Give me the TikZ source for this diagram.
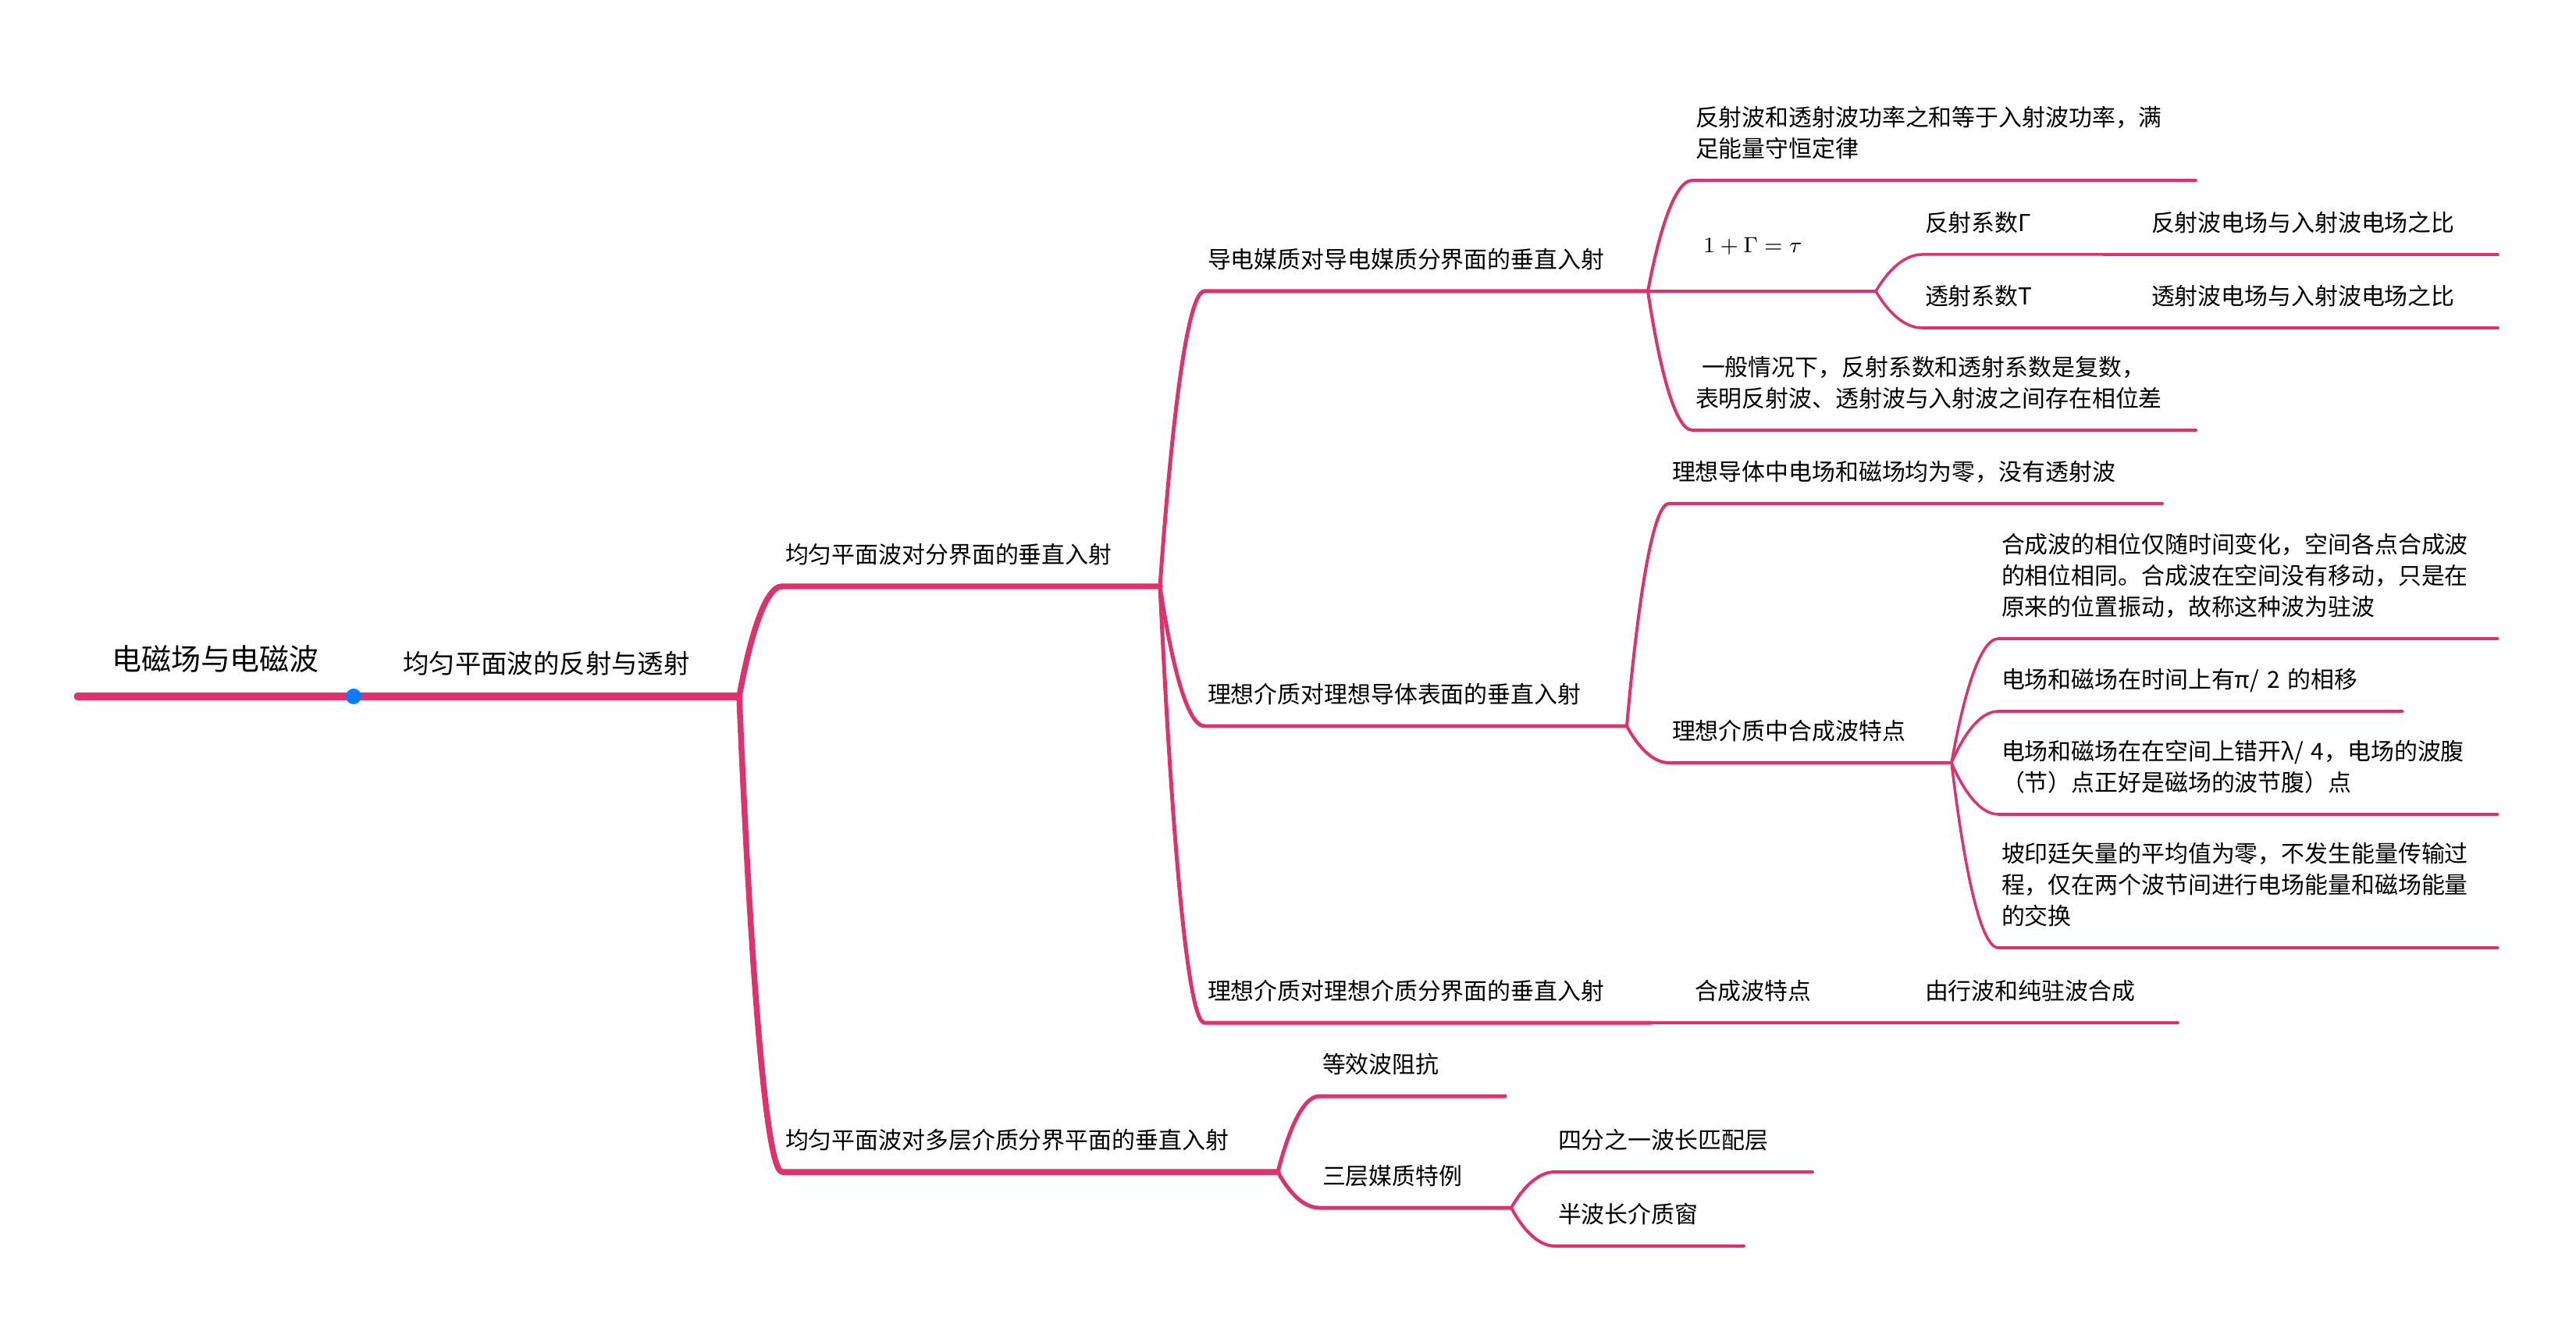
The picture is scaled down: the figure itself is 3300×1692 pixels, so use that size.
\documentclass[tikz,border=0pt]{standalone}
\usepackage[no-math]{fontspec}
\setmainfont{Noto Sans CJK SC}
\usetikzlibrary{calc}
\definecolor{mapPink}{RGB}{221,50,107}
\definecolor{mapBlue}{RGB}{10,124,255}

\begin{document}
\begin{tikzpicture}[
  x=0.01cm, y=-0.01cm,
  line cap=round, line join=round,
  topic/.style={
    anchor=south west,
    /utils/exec={\pgfmathsetlengthmacro\topicwd{#1*0.01cm-0.08cm}},
    text width=\topicwd,
    inner xsep=0.04cm,
    inner ysep=0.17cm,
    outer sep=0pt,
    align=left,
    font=\fontsize{8.5pt}{11.4pt}\selectfont,
    execute at end node=\strut
  },
  headtopic/.style={topic=#1, align=center},
  joint/.style={circle, fill=mapBlue, inner sep=0pt, minimum size=0.2cm},
  branch/.style={to path={let \p1=(\tikztostart), \p2=(\tikztotarget) in
    .. controls ({\x1+0.2*(\x2-\x1)},{\y1+0.43*(\y2-\y1)})
    and ({\x1+0.56*(\x2-\x1)},\y2) .. (\tikztotarget)}},
  lvone/.style={mapPink, line width=2.56pt},
  lvtwo/.style={mapPink, line width=2.13pt},
  lvthree/.style={mapPink, line width=1.42pt},
  lvfour/.style={mapPink, line width=1.14pt},
  lvfive/.style={mapPink, line width=1.0pt}
]
  \useasboundingbox (0,0) rectangle (3300,1692);

  % root and first level
  \node[headtopic=354, font=\fontsize{10.8pt}{13pt}\selectfont, inner ysep=0.20cm] (root) at (99,892) {电磁场与电磁波};
  \node[headtopic=494, font=\fontsize{9.5pt}{12pt}\selectfont, inner ysep=0.165cm] (refl) at (453,892) {均匀平面波的反射与透射};

  % second level
  \node[topic=484] (norm) at (1002,751) {均匀平面波对分界面的垂直入射};
  \node[topic=635] (multi) at (1002,1501) {均匀平面波对多层介质分界平面的垂直入射};

  % third level
  \node[topic=568] (cond) at (1543,373) {导电媒质对导电媒质分界面的垂直入射};
  \node[topic=541] (pec) at (1543,930) {理想介质对理想导体表面的垂直入射};
  \node[topic=572] (diel) at (1543,1310) {理想介质对理想介质分界面的垂直入射};
  \node[topic=238] (imp) at (1690,1404) {等效波阻抗};
  \node[topic=246] (three) at (1690,1547) {三层媒质特例};

  % fourth level
  \node[topic=645] (power) at (2168,231) {反射波和透射波功率之和等于入射波功率，满\\足能量守恒定律};
  \node[topic=235, font=\fontsize{8.3pt}{12pt}\selectfont, inner ysep=0.37cm] (sumrule) at (2168,373) {\hspace*{0.1cm}$1+\Gamma=\tau$};
  \node[topic=645] (phase) at (2168,551) {\hspace*{0.08cm}一般情况下，反射系数和透射系数是复数，\\表明反射波、透射波与入射波之间存在相位差};
  \node[topic=632] (zero) at (2138,645) {理想导体中电场和磁场均为零，没有透射波};
  \node[topic=362] (synth) at (2138,977) {理想介质中合成波特点};
  \node[topic=240] (feat) at (2167,1310) {合成波特点};
  \node[topic=330] (quarter) at (1992,1501) {四分之一波长匹配层};
  \node[topic=242] (half) at (1992,1596) {半波长介质窗};

  % fifth and sixth level
  \node[topic=233] (gam) at (2462,326) {反射系数Γ};
  \node[topic=233] (tau) at (2462,420) {透射系数T};
  \node[topic=448] (gamr) at (2752,326) {反射波电场与入射波电场之比};
  \node[topic=448] (taur) at (2752,420) {透射波电场与入射波电场之比};
  \node[topic=640] (stand) at (2560,818) {合成波的相位仅随时间变化，空间各点合成波\\的相位相同。合成波在空间没有移动，只是在\\原来的位置振动，故称这种波为驻波};
  \node[topic=518] (shift) at (2560,911) {电场和磁场在时间上有π/ 2 的相移};
  \node[topic=640] (offset) at (2560,1043) {电场和磁场在在空间上错开λ/ 4，电场的波腹\\（节）点正好是磁场的波节腹）点};
  \node[topic=640] (poynt) at (2560,1214) {坡印廷矢量的平均值为零，不发生能量传输过\\程，仅在两个波节间进行电场能量和磁场能量\\的交换};
  \node[topic=328] (mix) at (2462,1310) {由行波和纯驻波合成};

  % branches
  \draw[lvone] (root.south west) -- (root.south east);
  \draw[lvone] (refl.south west) -- (refl.south east);
  \foreach \kid in {norm,multi}
    \draw[lvtwo] (refl.south east) to[branch] (\kid.south west) -- (\kid.south east);
  \foreach \kid in {cond,pec,diel}
    \draw[lvthree] (norm.south east) to[branch] (\kid.south west) -- (\kid.south east);
  \foreach \kid in {imp,three}
    \draw[lvthree] (multi.south east) to[branch] (\kid.south west) -- (\kid.south east);
  \foreach \kid in {power,sumrule,phase}
    \draw[lvfour] (cond.south east) to[branch] (\kid.south west) -- (\kid.south east);
  \foreach \kid in {zero,synth}
    \draw[lvfour] (pec.south east) to[branch] (\kid.south west) -- (\kid.south east);
  \draw[lvfour] (diel.south east) to[branch] (feat.south west) -- (feat.south east);
  \foreach \kid in {quarter,half}
    \draw[lvfour] (three.south east) to[branch] (\kid.south west) -- (\kid.south east);
  \foreach \kid in {gam,tau}
    \draw[lvfive] (sumrule.south east) to[branch] (\kid.south west) -- (\kid.south east);
  \foreach \kid in {stand,shift,offset,poynt}
    \draw[lvfive] (synth.south east) to[branch] (\kid.south west) -- (\kid.south east);
  \draw[lvfive] (feat.south east) to[branch] (mix.south west) -- (mix.south east);
  \draw[lvfive] (gam.south east) to[branch] (gamr.south west) -- (gamr.south east);
  \draw[lvfive] (tau.south east) to[branch] (taur.south west) -- (taur.south east);

  \node[joint] (hub) at (root.south east) {};
\end{tikzpicture}
\end{document}
